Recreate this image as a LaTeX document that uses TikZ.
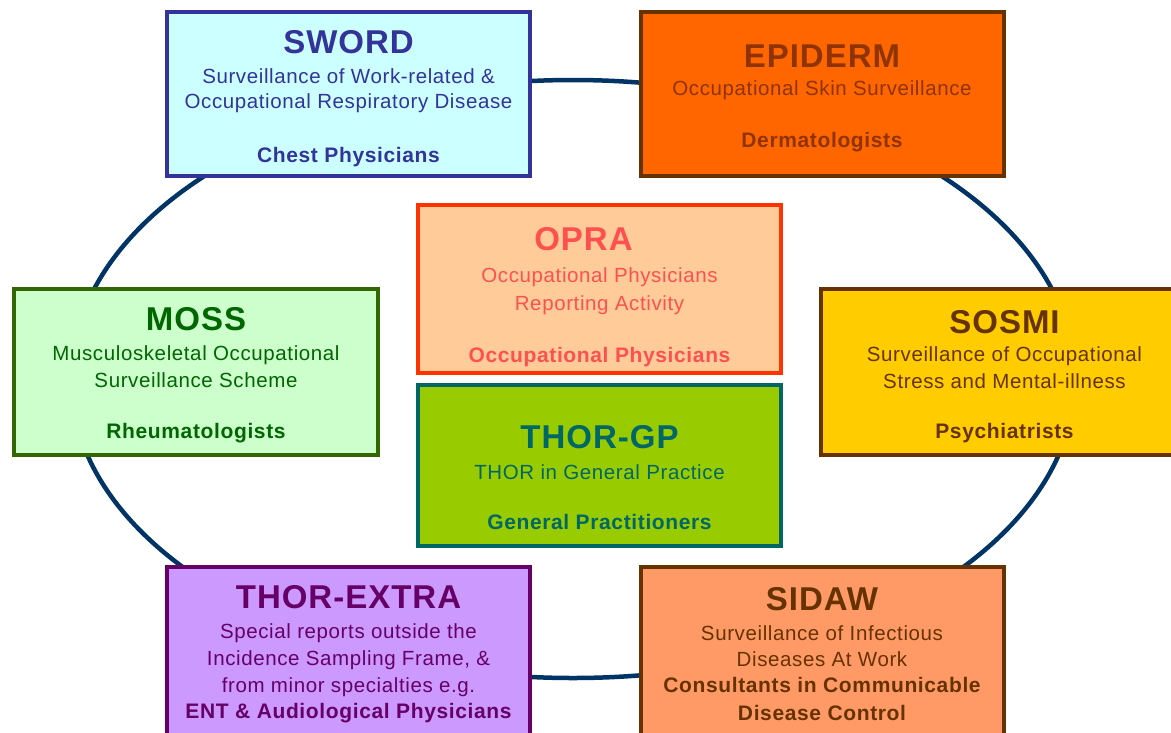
\documentclass[tikz,border=0pt]{standalone}
\usepackage{fontspec}
\setmainfont{Liberation Sans}[LetterSpace=3]
\usetikzlibrary{positioning,shapes.geometric}

\definecolor{ringline}{HTML}{003366}
\definecolor{swordfill}{HTML}{CCFFFF}
\definecolor{swordline}{HTML}{333399}
\definecolor{epidermfill}{HTML}{FF6600}
\definecolor{epidermline}{HTML}{663300}
\definecolor{epidermtext}{HTML}{8F3300}
\definecolor{oprafill}{HTML}{FFCC99}
\definecolor{opraline}{HTML}{FF3300}
\definecolor{opratext}{HTML}{FF5050}
\definecolor{thorgpfill}{HTML}{99CC00}
\definecolor{thorgpline}{HTML}{006666}
\definecolor{mossfill}{HTML}{CCFFCC}
\definecolor{mossline}{HTML}{336600}
\definecolor{mosstext}{HTML}{006600}
\definecolor{sosmifill}{HTML}{FFCC00}
\definecolor{brownline}{HTML}{663300}
\definecolor{extrafill}{HTML}{CC99FF}
\definecolor{extraline}{HTML}{660066}
\definecolor{sidawfill}{HTML}{FF9966}

% title line, second argument drops the text block inside its box
\newcommand{\schemetitle}[2]{{\fontsize{33}{36}\selectfont\bfseries
    \rule{0pt}{\dimexpr 24.2pt+#2*2\relax}#1}}
\newcommand{\schemegroup}[1]{{\fontsize{21}{25}\selectfont\bfseries #1}}

\begin{document}
\begin{tikzpicture}[
    x=1pt, y=-1pt,
    scheme_box/.style={draw, rectangle, line width=4pt, align=center, inner sep=0pt,
        font=\fontsize{20.5}{25}\selectfont},
    wide_box/.style={scheme_box, minimum width=363pt},
    ring_node/.style={draw=ringline, ellipse, line width=4.5pt, minimum width=1004pt,
        minimum height=598pt, inner sep=0pt}
]
\clip (0,0) rectangle (1171,732);

% --- RING ---
\node[ring_node] (ring) at (573,379) {};

% --- NODES ---

% Top row
\node[wide_box, minimum height=164pt, fill=swordfill, draw=swordline, text=swordline]
    (sword) at (348.5,94) {\schemetitle{SWORD}{4pt}\\[5pt]
    Surveillance of Work-related \&\\
    Occupational Respiratory Disease\\[29pt]
    \schemegroup{Chest Physicians}};
\node[wide_box, minimum height=164pt, fill=epidermfill, draw=epidermline, text=epidermtext]
    (epiderm) at (822,94) {\schemetitle{EPIDERM}{4pt}\\[3pt]
    Occupational Skin Surveillance\\[27pt]
    \schemegroup{Dermatologists}};

% Centre column
\node[wide_box, minimum height=168pt, fill=oprafill, draw=opraline, text=opratext]
    (opra) at (599.5,289) {\schemetitle{OPRA}{8pt}\rule{32pt}{0pt}\\[7pt]
    Occupational Physicians\\[3pt]
    Reporting Activity\\[27pt]
    \schemegroup{Occupational Physicians}};
\node[wide_box, minimum height=161pt, fill=thorgpfill, draw=thorgpline, text=thorgpline]
    (thorgp) at (599.5,465.5) {\schemetitle{THOR-GP}{11pt}\\[6pt]
    THOR in General Practice\\[25pt]
    \schemegroup{General Practitioners}};

% Middle row
\node[scheme_box, minimum width=364pt, minimum height=166pt, fill=mossfill, draw=mossline, text=mosstext]
    (moss) at (196,372) {\schemetitle{MOSS}{3pt}\\[5pt]
    Musculoskeletal Occupational\\[2pt]
    Surveillance Scheme\\[26pt]
    \schemegroup{Rheumatologists}};
\node[wide_box, minimum width=367pt, minimum height=166pt, fill=sosmifill, draw=brownline, text=brownline]
    (sosmi) at (1004.5,372) {\schemetitle{SOSMI}{4pt}\\[3pt]
    Surveillance of Occupational\\[2pt]
    Stress and Mental-illness\\[25pt]
    \schemegroup{Psychiatrists}};

% Bottom row
\node[wide_box, minimum height=172pt, fill=extrafill, draw=extraline, text=extraline]
    (extra) at (348.5,653) {\schemetitle{THOR-EXTRA}{1pt}\\[5pt]
    Special reports outside the\\[2pt]
    Incidence Sampling Frame, \&\\[2pt]
    from minor specialties e.g.\\[1pt]
    \schemegroup{ENT \& Audiological Physicians}};
\node[wide_box, minimum height=172pt, fill=sidawfill, draw=brownline, text=brownline]
    (sidaw) at (822,653) {\schemetitle{SIDAW}{0pt}\\[5pt]
    Surveillance of Infectious\\[1pt]
    Diseases At Work\\[1pt]
    \schemegroup{Consultants in Communicable}\\[3pt]
    \schemegroup{Disease Control}};

\end{tikzpicture}
\end{document}
